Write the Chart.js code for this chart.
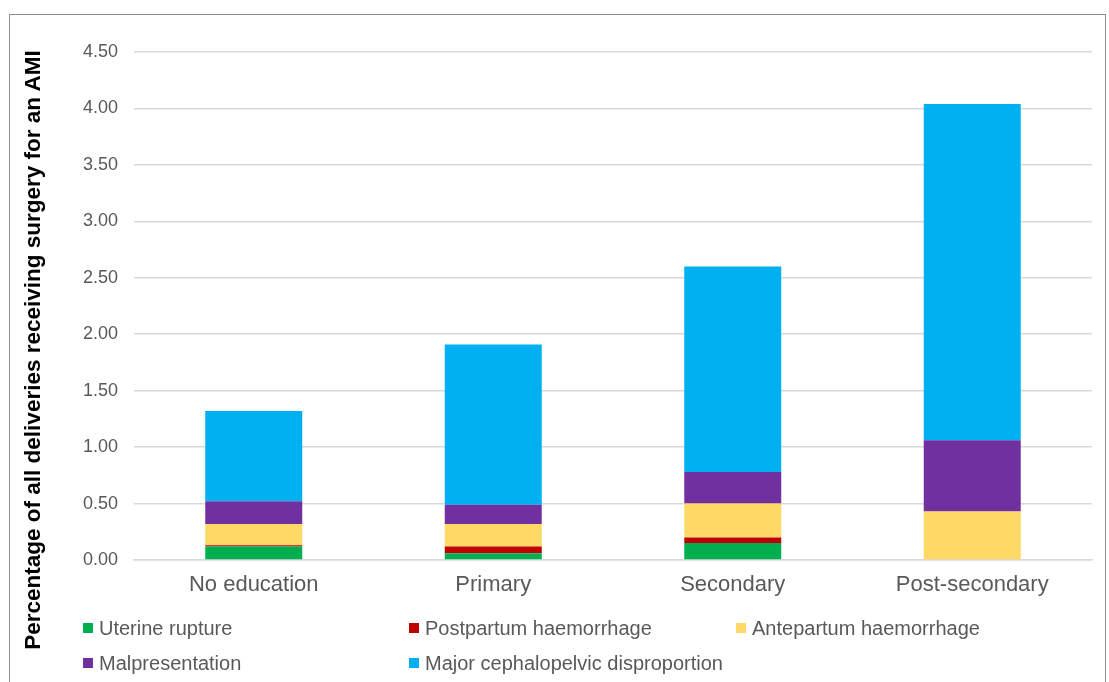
<!DOCTYPE html>
<html><head><meta charset="utf-8">
<script src="https://cdn.jsdelivr.net/npm/chart.js@4.4.1/dist/chart.umd.min.js"></script>
<style>
html,body{margin:0;padding:0;background:#fff;}
#wrap{position:relative;width:1109px;height:682px;overflow:hidden;font-family:"Liberation Sans",Arial,sans-serif;}
#frame{position:absolute;left:9px;top:14px;width:1097px;height:700px;border:1px solid #8c8c8c;box-sizing:border-box;}
canvas{position:absolute;left:0;top:0;}
.lg{position:absolute;font-size:20px;color:#595959;line-height:24px;height:24px;white-space:nowrap;display:flex;align-items:center;}
.lg i{display:inline-block;width:10px;height:10px;margin-right:6px;flex:none;}
#ytitle{position:absolute;width:700px;left:-317px;top:337px;height:26px;line-height:26px;text-align:center;
  font-size:22.5px;font-weight:bold;color:#000;transform:rotate(-90deg);transform-origin:50% 50%;white-space:nowrap;}
</style></head>
<body>
<div id="wrap">
<div id="frame"></div>
<canvas id="c" width="1109" height="682"></canvas>
<div id="ytitle"></div>
<div id="legend"></div>
</div>
<script>
const categories = ["No education", "Primary", "Secondary", "Post-secondary"];
const uterineRupture = [0.12, 0.06, 0.15, 0.00];
const postpartumHaemorrhage = [0.01, 0.06, 0.05, 0.00];
const antepartumHaemorrhage = [0.19, 0.20, 0.30, 0.43];
const malpresentation = [0.20, 0.17, 0.28, 0.63];
const majorCPD = [0.80, 1.42, 1.82, 2.98];
const seriesNames = ["Uterine rupture", "Postpartum haemorrhage", "Antepartum haemorrhage", "Malpresentation", "Major cephalopelvic disproportion"];
const seriesColors = ["#00B050", "#C00000", "#FFD966", "#7030A0", "#00B0F0"];
const seriesData = [uterineRupture, postpartumHaemorrhage, antepartumHaemorrhage, malpresentation, majorCPD];
const yTitle = "Percentage of all deliveries receiving surgery for an AMI";

const datasets = seriesNames.map((n, i) => ({
  label: n, data: seriesData[i], backgroundColor: seriesColors[i],
  borderWidth: 0, barPercentage: 0.405, categoryPercentage: 1.0
}));

new Chart(document.getElementById('c'), {
  type: 'bar',
  data: { labels: categories, datasets },
  options: {
    responsive: false, animation: false,
    layout: { padding: { left: 27, right: 17, top: 52, bottom: 72 } },
    plugins: { legend: { display: false }, tooltip: { enabled: false } },
    scales: {
      x: {
        stacked: true,
        grid: { display: false, drawTicks: false },
        border: { display: true, color: '#D9D9D9', width: 1.5 },
        ticks: { color: '#595959', font: { family: 'Liberation Sans', size: 22 }, padding: 12 },
        afterFit: s => { s.height = 50; }
      },
      y: {
        stacked: true, min: 0, max: 4.5,
        grid: { color: '#D9D9D9', lineWidth: 1.5, drawTicks: false },
        border: { display: false },
        ticks: { stepSize: 0.5, color: '#595959', font: { family: 'Liberation Sans', size: 18 }, padding: 16,
          callback: v => Number(v).toFixed(2) },
        title: { display: false },
        afterFit: s => { s.width = 107; }
      }
    }
  }
});

document.getElementById('ytitle').textContent = yTitle;

const legendPos = [[83, 616], [409, 616], [736, 616], [83, 651], [409, 651]];
const lg = document.getElementById('legend');
seriesNames.forEach((n, i) => {
  const d = document.createElement('div');
  d.className = 'lg';
  d.style.left = legendPos[i][0] + 'px';
  d.style.top = legendPos[i][1] + 'px';
  d.innerHTML = '<i style="background:' + seriesColors[i] + '"></i>' + n;
  lg.appendChild(d);
});
</script>
</body></html>
